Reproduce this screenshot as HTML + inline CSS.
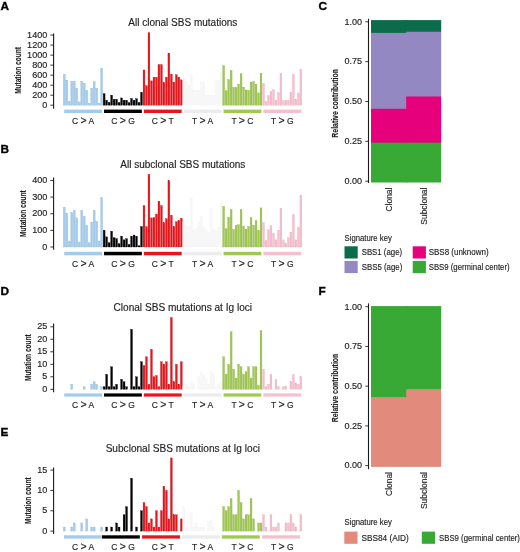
<!DOCTYPE html>
<html><head><meta charset="utf-8"><style>
html,body{margin:0;padding:0;background:#fff;}
svg{display:block;will-change:transform;}
text{font-family:"Liberation Sans",sans-serif;stroke:#222;stroke-width:0.14px;}
.pl{stroke:#000;stroke-width:0.35px;}
</style></head><body>
<svg width="520" height="552" viewBox="0 0 520 552" font-family="Liberation Sans, sans-serif">
<rect width="520" height="552" fill="#fff"/>
<text x="0.6" y="10.0" font-size="11.8" font-weight="bold" class="pl">A</text>
<text x="182.8" y="25.9" font-size="10" text-anchor="middle" fill="#222">All clonal SBS mutations</text>
<line x1="53.6" y1="33.5" x2="53.6" y2="108.8" stroke="#1a1a1a" stroke-width="1.1"/>
<line x1="50.4" y1="105.20" x2="53.6" y2="105.20" stroke="#222" stroke-width="0.9"/>
<text x="47.300000000000004" y="107.80" font-size="8.4" text-anchor="end" textLength="5.04" lengthAdjust="spacingAndGlyphs" fill="#222">0</text>
<line x1="50.4" y1="95.19" x2="53.6" y2="95.19" stroke="#222" stroke-width="0.9"/>
<text x="47.300000000000004" y="97.79" font-size="8.4" text-anchor="end" textLength="15.13" lengthAdjust="spacingAndGlyphs" fill="#222">200</text>
<line x1="50.4" y1="85.17" x2="53.6" y2="85.17" stroke="#222" stroke-width="0.9"/>
<text x="47.300000000000004" y="87.77" font-size="8.4" text-anchor="end" textLength="15.13" lengthAdjust="spacingAndGlyphs" fill="#222">400</text>
<line x1="50.4" y1="75.16" x2="53.6" y2="75.16" stroke="#222" stroke-width="0.9"/>
<text x="47.300000000000004" y="77.76" font-size="8.4" text-anchor="end" textLength="15.13" lengthAdjust="spacingAndGlyphs" fill="#222">600</text>
<line x1="50.4" y1="65.14" x2="53.6" y2="65.14" stroke="#222" stroke-width="0.9"/>
<text x="47.300000000000004" y="67.74" font-size="8.4" text-anchor="end" textLength="15.13" lengthAdjust="spacingAndGlyphs" fill="#222">800</text>
<line x1="50.4" y1="55.13" x2="53.6" y2="55.13" stroke="#222" stroke-width="0.9"/>
<text x="47.300000000000004" y="57.73" font-size="8.4" text-anchor="end" textLength="20.18" lengthAdjust="spacingAndGlyphs" fill="#222">1000</text>
<line x1="50.4" y1="45.11" x2="53.6" y2="45.11" stroke="#222" stroke-width="0.9"/>
<text x="47.300000000000004" y="47.71" font-size="8.4" text-anchor="end" textLength="20.18" lengthAdjust="spacingAndGlyphs" fill="#222">1200</text>
<line x1="50.4" y1="35.10" x2="53.6" y2="35.10" stroke="#222" stroke-width="0.9"/>
<text x="47.300000000000004" y="37.70" font-size="8.4" text-anchor="end" textLength="20.18" lengthAdjust="spacingAndGlyphs" fill="#222">1400</text>
<text transform="translate(20.7,70.5) rotate(-90)" font-size="8.6" font-weight="bold" text-anchor="middle" textLength="46.7" lengthAdjust="spacingAndGlyphs" fill="#222">Mutation count</text>
<rect x="63.38" y="74.16" width="1.85" height="31.04" fill="#A3CBEB" stroke="#8DB3D6" stroke-width="0.3"/>
<rect x="65.86" y="80.16" width="1.85" height="25.04" fill="#A3CBEB" stroke="#8DB3D6" stroke-width="0.3"/>
<rect x="68.36" y="101.19" width="1.85" height="4.01" fill="#A3CBEB" stroke="#8DB3D6" stroke-width="0.3"/>
<rect x="70.84" y="81.27" width="1.85" height="23.93" fill="#A3CBEB" stroke="#8DB3D6" stroke-width="0.3"/>
<rect x="73.33" y="81.17" width="1.85" height="24.03" fill="#A3CBEB" stroke="#8DB3D6" stroke-width="0.3"/>
<rect x="75.83" y="88.18" width="1.85" height="17.02" fill="#A3CBEB" stroke="#8DB3D6" stroke-width="0.3"/>
<rect x="78.31" y="101.95" width="1.85" height="3.25" fill="#A3CBEB" stroke="#8DB3D6" stroke-width="0.3"/>
<rect x="80.80" y="81.17" width="1.85" height="24.03" fill="#A3CBEB" stroke="#8DB3D6" stroke-width="0.3"/>
<rect x="83.30" y="83.17" width="1.85" height="22.03" fill="#A3CBEB" stroke="#8DB3D6" stroke-width="0.3"/>
<rect x="85.79" y="90.18" width="1.85" height="15.02" fill="#A3CBEB" stroke="#8DB3D6" stroke-width="0.3"/>
<rect x="88.28" y="103.20" width="1.85" height="2.00" fill="#A3CBEB" stroke="#8DB3D6" stroke-width="0.3"/>
<rect x="90.77" y="88.18" width="1.85" height="17.02" fill="#A3CBEB" stroke="#8DB3D6" stroke-width="0.3"/>
<rect x="93.26" y="81.67" width="1.85" height="23.53" fill="#A3CBEB" stroke="#8DB3D6" stroke-width="0.3"/>
<rect x="95.75" y="88.18" width="1.85" height="17.02" fill="#A3CBEB" stroke="#8DB3D6" stroke-width="0.3"/>
<rect x="98.23" y="103.20" width="1.85" height="2.00" fill="#A3CBEB" stroke="#8DB3D6" stroke-width="0.3"/>
<rect x="100.73" y="68.15" width="1.85" height="37.05" fill="#A3CBEB" stroke="#8DB3D6" stroke-width="0.3"/>
<rect x="64.20" y="109.6" width="37.80" height="3.40" fill="#A3CBEB"/>
<text x="83.10" y="123.7" font-size="8.5" text-anchor="middle" fill="#222">C <tspan font-size="10.5" dy="0.6">&gt;</tspan><tspan dy="-0.6"> A</tspan></text>
<rect x="103.22" y="93.68" width="1.85" height="11.52" fill="#000000" stroke="#000000" stroke-width="0.3"/>
<rect x="105.70" y="100.19" width="1.85" height="5.01" fill="#000000" stroke="#000000" stroke-width="0.3"/>
<rect x="108.20" y="102.30" width="1.85" height="2.90" fill="#000000" stroke="#000000" stroke-width="0.3"/>
<rect x="110.69" y="95.19" width="1.85" height="10.01" fill="#000000" stroke="#000000" stroke-width="0.3"/>
<rect x="113.17" y="99.29" width="1.85" height="5.91" fill="#000000" stroke="#000000" stroke-width="0.3"/>
<rect x="115.67" y="99.29" width="1.85" height="5.91" fill="#000000" stroke="#000000" stroke-width="0.3"/>
<rect x="118.16" y="102.45" width="1.85" height="2.75" fill="#000000" stroke="#000000" stroke-width="0.3"/>
<rect x="120.64" y="97.94" width="1.85" height="7.26" fill="#000000" stroke="#000000" stroke-width="0.3"/>
<rect x="123.14" y="100.19" width="1.85" height="5.01" fill="#000000" stroke="#000000" stroke-width="0.3"/>
<rect x="125.63" y="100.19" width="1.85" height="5.01" fill="#000000" stroke="#000000" stroke-width="0.3"/>
<rect x="128.12" y="102.60" width="1.85" height="2.60" fill="#000000" stroke="#000000" stroke-width="0.3"/>
<rect x="130.60" y="98.44" width="1.85" height="6.76" fill="#000000" stroke="#000000" stroke-width="0.3"/>
<rect x="133.09" y="100.19" width="1.85" height="5.01" fill="#000000" stroke="#000000" stroke-width="0.3"/>
<rect x="135.58" y="98.69" width="1.85" height="6.51" fill="#000000" stroke="#000000" stroke-width="0.3"/>
<rect x="138.07" y="102.45" width="1.85" height="2.75" fill="#000000" stroke="#000000" stroke-width="0.3"/>
<rect x="140.56" y="92.28" width="1.85" height="12.92" fill="#000000" stroke="#000000" stroke-width="0.3"/>
<rect x="104.04" y="109.6" width="37.80" height="3.40" fill="#000000"/>
<text x="122.94" y="123.7" font-size="8.5" text-anchor="middle" fill="#222">C <tspan font-size="10.5" dy="0.6">&gt;</tspan><tspan dy="-0.6"> G</tspan></text>
<rect x="143.06" y="69.95" width="1.85" height="35.25" fill="#E8161B" stroke="#C8101A" stroke-width="0.3"/>
<rect x="145.54" y="85.67" width="1.85" height="19.53" fill="#E8161B" stroke="#C8101A" stroke-width="0.3"/>
<rect x="148.03" y="32.75" width="1.85" height="72.45" fill="#E8161B" stroke="#C8101A" stroke-width="0.3"/>
<rect x="150.52" y="80.87" width="1.85" height="24.33" fill="#E8161B" stroke="#C8101A" stroke-width="0.3"/>
<rect x="153.01" y="77.16" width="1.85" height="28.04" fill="#E8161B" stroke="#C8101A" stroke-width="0.3"/>
<rect x="155.50" y="77.16" width="1.85" height="28.04" fill="#E8161B" stroke="#C8101A" stroke-width="0.3"/>
<rect x="158.00" y="64.64" width="1.85" height="40.56" fill="#E8161B" stroke="#C8101A" stroke-width="0.3"/>
<rect x="160.49" y="64.64" width="1.85" height="40.56" fill="#E8161B" stroke="#C8101A" stroke-width="0.3"/>
<rect x="162.97" y="82.67" width="1.85" height="22.53" fill="#E8161B" stroke="#C8101A" stroke-width="0.3"/>
<rect x="165.46" y="77.16" width="1.85" height="28.04" fill="#E8161B" stroke="#C8101A" stroke-width="0.3"/>
<rect x="167.95" y="53.13" width="1.85" height="52.07" fill="#E8161B" stroke="#C8101A" stroke-width="0.3"/>
<rect x="170.44" y="74.16" width="1.85" height="31.04" fill="#E8161B" stroke="#C8101A" stroke-width="0.3"/>
<rect x="172.94" y="82.17" width="1.85" height="23.03" fill="#E8161B" stroke="#C8101A" stroke-width="0.3"/>
<rect x="175.43" y="74.66" width="1.85" height="30.54" fill="#E8161B" stroke="#C8101A" stroke-width="0.3"/>
<rect x="177.91" y="77.16" width="1.85" height="28.04" fill="#E8161B" stroke="#C8101A" stroke-width="0.3"/>
<rect x="180.41" y="79.86" width="1.85" height="25.34" fill="#E8161B" stroke="#C8101A" stroke-width="0.3"/>
<rect x="143.88" y="109.6" width="37.80" height="3.40" fill="#E8161B"/>
<text x="162.78" y="123.7" font-size="8.5" text-anchor="middle" fill="#222">C <tspan font-size="10.5" dy="0.6">&gt;</tspan><tspan dy="-0.6"> T</tspan></text>
<rect x="182.89" y="78.16" width="1.85" height="27.04" fill="#F7F7F8" stroke="#F1F1F3" stroke-width="0.3"/>
<rect x="185.38" y="81.17" width="1.85" height="24.03" fill="#F7F7F8" stroke="#F1F1F3" stroke-width="0.3"/>
<rect x="187.88" y="85.17" width="1.85" height="20.03" fill="#F7F7F8" stroke="#F1F1F3" stroke-width="0.3"/>
<rect x="190.37" y="74.16" width="1.85" height="31.04" fill="#F7F7F8" stroke="#F1F1F3" stroke-width="0.3"/>
<rect x="192.86" y="90.18" width="1.85" height="15.02" fill="#F7F7F8" stroke="#F1F1F3" stroke-width="0.3"/>
<rect x="195.34" y="90.18" width="1.85" height="15.02" fill="#F7F7F8" stroke="#F1F1F3" stroke-width="0.3"/>
<rect x="197.83" y="90.18" width="1.85" height="15.02" fill="#F7F7F8" stroke="#F1F1F3" stroke-width="0.3"/>
<rect x="200.32" y="82.17" width="1.85" height="23.03" fill="#F7F7F8" stroke="#F1F1F3" stroke-width="0.3"/>
<rect x="202.81" y="82.17" width="1.85" height="23.03" fill="#F7F7F8" stroke="#F1F1F3" stroke-width="0.3"/>
<rect x="205.31" y="95.19" width="1.85" height="10.01" fill="#F7F7F8" stroke="#F1F1F3" stroke-width="0.3"/>
<rect x="207.80" y="95.19" width="1.85" height="10.01" fill="#F7F7F8" stroke="#F1F1F3" stroke-width="0.3"/>
<rect x="210.29" y="95.19" width="1.85" height="10.01" fill="#F7F7F8" stroke="#F1F1F3" stroke-width="0.3"/>
<rect x="212.77" y="95.19" width="1.85" height="10.01" fill="#F7F7F8" stroke="#F1F1F3" stroke-width="0.3"/>
<rect x="215.26" y="80.16" width="1.85" height="25.04" fill="#F7F7F8" stroke="#F1F1F3" stroke-width="0.3"/>
<rect x="217.75" y="80.16" width="1.85" height="25.04" fill="#F7F7F8" stroke="#F1F1F3" stroke-width="0.3"/>
<rect x="220.25" y="72.15" width="1.85" height="33.05" fill="#F7F7F8" stroke="#F1F1F3" stroke-width="0.3"/>
<rect x="183.72" y="109.6" width="37.80" height="3.40" fill="#ECECEF"/>
<text x="202.62" y="123.7" font-size="8.5" text-anchor="middle" fill="#222">T <tspan font-size="10.5" dy="0.6">&gt;</tspan><tspan dy="-0.6"> A</tspan></text>
<rect x="222.74" y="65.64" width="1.85" height="39.56" fill="#A0C853" stroke="#88AD40" stroke-width="0.3"/>
<rect x="225.23" y="90.68" width="1.85" height="14.52" fill="#A0C853" stroke="#88AD40" stroke-width="0.3"/>
<rect x="227.71" y="79.56" width="1.85" height="25.64" fill="#A0C853" stroke="#88AD40" stroke-width="0.3"/>
<rect x="230.20" y="70.40" width="1.85" height="34.80" fill="#A0C853" stroke="#88AD40" stroke-width="0.3"/>
<rect x="232.69" y="87.37" width="1.85" height="17.83" fill="#A0C853" stroke="#88AD40" stroke-width="0.3"/>
<rect x="235.19" y="87.37" width="1.85" height="17.83" fill="#A0C853" stroke="#88AD40" stroke-width="0.3"/>
<rect x="237.68" y="84.17" width="1.85" height="21.03" fill="#A0C853" stroke="#88AD40" stroke-width="0.3"/>
<rect x="240.17" y="73.76" width="1.85" height="31.44" fill="#A0C853" stroke="#88AD40" stroke-width="0.3"/>
<rect x="242.66" y="87.17" width="1.85" height="18.03" fill="#A0C853" stroke="#88AD40" stroke-width="0.3"/>
<rect x="245.14" y="89.98" width="1.85" height="15.22" fill="#A0C853" stroke="#88AD40" stroke-width="0.3"/>
<rect x="247.63" y="90.18" width="1.85" height="15.02" fill="#A0C853" stroke="#88AD40" stroke-width="0.3"/>
<rect x="250.12" y="82.02" width="1.85" height="23.18" fill="#A0C853" stroke="#88AD40" stroke-width="0.3"/>
<rect x="252.62" y="81.67" width="1.85" height="23.53" fill="#A0C853" stroke="#88AD40" stroke-width="0.3"/>
<rect x="255.11" y="84.17" width="1.85" height="21.03" fill="#A0C853" stroke="#88AD40" stroke-width="0.3"/>
<rect x="257.60" y="92.88" width="1.85" height="12.32" fill="#A0C853" stroke="#88AD40" stroke-width="0.3"/>
<rect x="260.08" y="73.30" width="1.85" height="31.90" fill="#A0C853" stroke="#88AD40" stroke-width="0.3"/>
<rect x="223.56" y="109.6" width="37.80" height="3.40" fill="#A0C853"/>
<text x="242.46" y="123.7" font-size="8.5" text-anchor="middle" fill="#222">T <tspan font-size="10.5" dy="0.6">&gt;</tspan><tspan dy="-0.6"> C</tspan></text>
<rect x="262.57" y="83.47" width="1.85" height="21.73" fill="#F4BFCE" stroke="#E4A8BA" stroke-width="0.3"/>
<rect x="265.06" y="101.59" width="1.85" height="3.61" fill="#F4BFCE" stroke="#E4A8BA" stroke-width="0.3"/>
<rect x="267.56" y="95.79" width="1.85" height="9.41" fill="#F4BFCE" stroke="#E4A8BA" stroke-width="0.3"/>
<rect x="270.05" y="91.43" width="1.85" height="13.77" fill="#F4BFCE" stroke="#E4A8BA" stroke-width="0.3"/>
<rect x="272.54" y="89.68" width="1.85" height="15.52" fill="#F4BFCE" stroke="#E4A8BA" stroke-width="0.3"/>
<rect x="275.02" y="100.19" width="1.85" height="5.01" fill="#F4BFCE" stroke="#E4A8BA" stroke-width="0.3"/>
<rect x="277.51" y="92.58" width="1.85" height="12.62" fill="#F4BFCE" stroke="#E4A8BA" stroke-width="0.3"/>
<rect x="280.00" y="73.30" width="1.85" height="31.90" fill="#F4BFCE" stroke="#E4A8BA" stroke-width="0.3"/>
<rect x="282.50" y="100.84" width="1.85" height="4.36" fill="#F4BFCE" stroke="#E4A8BA" stroke-width="0.3"/>
<rect x="284.99" y="100.84" width="1.85" height="4.36" fill="#F4BFCE" stroke="#E4A8BA" stroke-width="0.3"/>
<rect x="287.48" y="100.19" width="1.85" height="5.01" fill="#F4BFCE" stroke="#E4A8BA" stroke-width="0.3"/>
<rect x="289.97" y="92.18" width="1.85" height="13.02" fill="#F4BFCE" stroke="#E4A8BA" stroke-width="0.3"/>
<rect x="292.45" y="74.36" width="1.85" height="30.84" fill="#F4BFCE" stroke="#E4A8BA" stroke-width="0.3"/>
<rect x="294.94" y="99.39" width="1.85" height="5.81" fill="#F4BFCE" stroke="#E4A8BA" stroke-width="0.3"/>
<rect x="297.44" y="92.88" width="1.85" height="12.32" fill="#F4BFCE" stroke="#E4A8BA" stroke-width="0.3"/>
<rect x="299.93" y="69.70" width="1.85" height="35.50" fill="#F4BFCE" stroke="#E4A8BA" stroke-width="0.3"/>
<rect x="263.40" y="109.6" width="37.80" height="3.40" fill="#F4BFCE"/>
<text x="282.30" y="123.7" font-size="8.5" text-anchor="middle" fill="#222">T <tspan font-size="10.5" dy="0.6">&gt;</tspan><tspan dy="-0.6"> G</tspan></text>
<text x="0.6" y="153.0" font-size="11.8" font-weight="bold" class="pl">B</text>
<text x="182.8" y="168.3" font-size="10" text-anchor="middle" fill="#222">All subclonal SBS mutations</text>
<line x1="53.6" y1="177.6" x2="53.6" y2="249.7" stroke="#1a1a1a" stroke-width="1.1"/>
<line x1="50.4" y1="247.00" x2="53.6" y2="247.00" stroke="#222" stroke-width="0.9"/>
<text x="47.300000000000004" y="249.60" font-size="8.4" text-anchor="end" textLength="5.04" lengthAdjust="spacingAndGlyphs" fill="#222">0</text>
<line x1="50.4" y1="230.38" x2="53.6" y2="230.38" stroke="#222" stroke-width="0.9"/>
<text x="47.300000000000004" y="232.97" font-size="8.4" text-anchor="end" textLength="15.13" lengthAdjust="spacingAndGlyphs" fill="#222">100</text>
<line x1="50.4" y1="213.75" x2="53.6" y2="213.75" stroke="#222" stroke-width="0.9"/>
<text x="47.300000000000004" y="216.35" font-size="8.4" text-anchor="end" textLength="15.13" lengthAdjust="spacingAndGlyphs" fill="#222">200</text>
<line x1="50.4" y1="197.12" x2="53.6" y2="197.12" stroke="#222" stroke-width="0.9"/>
<text x="47.300000000000004" y="199.72" font-size="8.4" text-anchor="end" textLength="15.13" lengthAdjust="spacingAndGlyphs" fill="#222">300</text>
<line x1="50.4" y1="180.50" x2="53.6" y2="180.50" stroke="#222" stroke-width="0.9"/>
<text x="47.300000000000004" y="183.10" font-size="8.4" text-anchor="end" textLength="15.13" lengthAdjust="spacingAndGlyphs" fill="#222">400</text>
<text transform="translate(26.2,213.6) rotate(-90)" font-size="8.6" font-weight="bold" text-anchor="middle" textLength="46.7" lengthAdjust="spacingAndGlyphs" fill="#222">Mutation count</text>
<rect x="63.38" y="207.10" width="1.85" height="39.90" fill="#A3CBEB" stroke="#8DB3D6" stroke-width="0.3"/>
<rect x="65.86" y="213.42" width="1.85" height="33.58" fill="#A3CBEB" stroke="#8DB3D6" stroke-width="0.3"/>
<rect x="68.36" y="241.01" width="1.85" height="5.99" fill="#A3CBEB" stroke="#8DB3D6" stroke-width="0.3"/>
<rect x="70.84" y="212.42" width="1.85" height="34.58" fill="#A3CBEB" stroke="#8DB3D6" stroke-width="0.3"/>
<rect x="73.33" y="210.43" width="1.85" height="36.58" fill="#A3CBEB" stroke="#8DB3D6" stroke-width="0.3"/>
<rect x="75.83" y="217.91" width="1.85" height="29.09" fill="#A3CBEB" stroke="#8DB3D6" stroke-width="0.3"/>
<rect x="78.31" y="242.01" width="1.85" height="4.99" fill="#A3CBEB" stroke="#8DB3D6" stroke-width="0.3"/>
<rect x="80.80" y="210.43" width="1.85" height="36.58" fill="#A3CBEB" stroke="#8DB3D6" stroke-width="0.3"/>
<rect x="83.30" y="216.41" width="1.85" height="30.59" fill="#A3CBEB" stroke="#8DB3D6" stroke-width="0.3"/>
<rect x="85.79" y="225.39" width="1.85" height="21.61" fill="#A3CBEB" stroke="#8DB3D6" stroke-width="0.3"/>
<rect x="88.28" y="242.84" width="1.85" height="4.16" fill="#A3CBEB" stroke="#8DB3D6" stroke-width="0.3"/>
<rect x="90.77" y="222.06" width="1.85" height="24.94" fill="#A3CBEB" stroke="#8DB3D6" stroke-width="0.3"/>
<rect x="93.26" y="210.43" width="1.85" height="36.58" fill="#A3CBEB" stroke="#8DB3D6" stroke-width="0.3"/>
<rect x="95.75" y="221.23" width="1.85" height="25.77" fill="#A3CBEB" stroke="#8DB3D6" stroke-width="0.3"/>
<rect x="98.23" y="241.01" width="1.85" height="5.99" fill="#A3CBEB" stroke="#8DB3D6" stroke-width="0.3"/>
<rect x="100.73" y="197.46" width="1.85" height="49.54" fill="#A3CBEB" stroke="#8DB3D6" stroke-width="0.3"/>
<rect x="64.20" y="251.8" width="37.80" height="3.50" fill="#A3CBEB"/>
<text x="83.10" y="266.6" font-size="8.5" text-anchor="middle" fill="#222">C <tspan font-size="10.5" dy="0.6">&gt;</tspan><tspan dy="-0.6"> A</tspan></text>
<rect x="103.22" y="230.21" width="1.85" height="16.79" fill="#000000" stroke="#000000" stroke-width="0.3"/>
<rect x="105.70" y="236.86" width="1.85" height="10.14" fill="#000000" stroke="#000000" stroke-width="0.3"/>
<rect x="108.20" y="242.84" width="1.85" height="4.16" fill="#000000" stroke="#000000" stroke-width="0.3"/>
<rect x="110.69" y="231.21" width="1.85" height="15.79" fill="#000000" stroke="#000000" stroke-width="0.3"/>
<rect x="113.17" y="237.69" width="1.85" height="9.31" fill="#000000" stroke="#000000" stroke-width="0.3"/>
<rect x="115.67" y="238.69" width="1.85" height="8.31" fill="#000000" stroke="#000000" stroke-width="0.3"/>
<rect x="118.16" y="243.68" width="1.85" height="3.33" fill="#000000" stroke="#000000" stroke-width="0.3"/>
<rect x="120.64" y="236.19" width="1.85" height="10.81" fill="#000000" stroke="#000000" stroke-width="0.3"/>
<rect x="123.14" y="239.85" width="1.85" height="7.15" fill="#000000" stroke="#000000" stroke-width="0.3"/>
<rect x="125.63" y="238.69" width="1.85" height="8.31" fill="#000000" stroke="#000000" stroke-width="0.3"/>
<rect x="128.12" y="244.34" width="1.85" height="2.66" fill="#000000" stroke="#000000" stroke-width="0.3"/>
<rect x="130.60" y="236.19" width="1.85" height="10.81" fill="#000000" stroke="#000000" stroke-width="0.3"/>
<rect x="133.09" y="235.03" width="1.85" height="11.97" fill="#000000" stroke="#000000" stroke-width="0.3"/>
<rect x="135.58" y="236.19" width="1.85" height="10.81" fill="#000000" stroke="#000000" stroke-width="0.3"/>
<rect x="138.07" y="245.84" width="1.85" height="1.16" fill="#000000" stroke="#000000" stroke-width="0.3"/>
<rect x="140.56" y="226.55" width="1.85" height="20.45" fill="#000000" stroke="#000000" stroke-width="0.3"/>
<rect x="104.04" y="251.8" width="37.80" height="3.50" fill="#000000"/>
<text x="122.94" y="266.6" font-size="8.5" text-anchor="middle" fill="#222">C <tspan font-size="10.5" dy="0.6">&gt;</tspan><tspan dy="-0.6"> G</tspan></text>
<rect x="143.06" y="205.60" width="1.85" height="41.40" fill="#E8161B" stroke="#C8101A" stroke-width="0.3"/>
<rect x="145.54" y="226.72" width="1.85" height="20.28" fill="#E8161B" stroke="#C8101A" stroke-width="0.3"/>
<rect x="148.03" y="174.35" width="1.85" height="72.65" fill="#E8161B" stroke="#C8101A" stroke-width="0.3"/>
<rect x="150.52" y="217.91" width="1.85" height="29.09" fill="#E8161B" stroke="#C8101A" stroke-width="0.3"/>
<rect x="153.01" y="217.57" width="1.85" height="29.43" fill="#E8161B" stroke="#C8101A" stroke-width="0.3"/>
<rect x="155.50" y="214.08" width="1.85" height="32.92" fill="#E8161B" stroke="#C8101A" stroke-width="0.3"/>
<rect x="158.00" y="201.12" width="1.85" height="45.89" fill="#E8161B" stroke="#C8101A" stroke-width="0.3"/>
<rect x="160.49" y="205.60" width="1.85" height="41.40" fill="#E8161B" stroke="#C8101A" stroke-width="0.3"/>
<rect x="162.97" y="222.73" width="1.85" height="24.27" fill="#E8161B" stroke="#C8101A" stroke-width="0.3"/>
<rect x="165.46" y="218.74" width="1.85" height="28.26" fill="#E8161B" stroke="#C8101A" stroke-width="0.3"/>
<rect x="167.95" y="180.67" width="1.85" height="66.33" fill="#E8161B" stroke="#C8101A" stroke-width="0.3"/>
<rect x="170.44" y="215.25" width="1.85" height="31.75" fill="#E8161B" stroke="#C8101A" stroke-width="0.3"/>
<rect x="172.94" y="226.72" width="1.85" height="20.28" fill="#E8161B" stroke="#C8101A" stroke-width="0.3"/>
<rect x="175.43" y="221.73" width="1.85" height="25.27" fill="#E8161B" stroke="#C8101A" stroke-width="0.3"/>
<rect x="177.91" y="220.57" width="1.85" height="26.43" fill="#E8161B" stroke="#C8101A" stroke-width="0.3"/>
<rect x="180.41" y="218.24" width="1.85" height="28.76" fill="#E8161B" stroke="#C8101A" stroke-width="0.3"/>
<rect x="143.88" y="251.8" width="37.80" height="3.50" fill="#E8161B"/>
<text x="162.78" y="266.6" font-size="8.5" text-anchor="middle" fill="#222">C <tspan font-size="10.5" dy="0.6">&gt;</tspan><tspan dy="-0.6"> T</tspan></text>
<rect x="182.89" y="222.06" width="1.85" height="24.94" fill="#F7F7F8" stroke="#F1F1F3" stroke-width="0.3"/>
<rect x="185.38" y="225.39" width="1.85" height="21.61" fill="#F7F7F8" stroke="#F1F1F3" stroke-width="0.3"/>
<rect x="187.88" y="227.05" width="1.85" height="19.95" fill="#F7F7F8" stroke="#F1F1F3" stroke-width="0.3"/>
<rect x="190.37" y="197.46" width="1.85" height="49.54" fill="#F7F7F8" stroke="#F1F1F3" stroke-width="0.3"/>
<rect x="192.86" y="230.38" width="1.85" height="16.62" fill="#F7F7F8" stroke="#F1F1F3" stroke-width="0.3"/>
<rect x="195.34" y="228.71" width="1.85" height="18.29" fill="#F7F7F8" stroke="#F1F1F3" stroke-width="0.3"/>
<rect x="197.83" y="222.06" width="1.85" height="24.94" fill="#F7F7F8" stroke="#F1F1F3" stroke-width="0.3"/>
<rect x="200.32" y="216.08" width="1.85" height="30.92" fill="#F7F7F8" stroke="#F1F1F3" stroke-width="0.3"/>
<rect x="202.81" y="227.05" width="1.85" height="19.95" fill="#F7F7F8" stroke="#F1F1F3" stroke-width="0.3"/>
<rect x="205.31" y="230.38" width="1.85" height="16.62" fill="#F7F7F8" stroke="#F1F1F3" stroke-width="0.3"/>
<rect x="207.80" y="232.04" width="1.85" height="14.96" fill="#F7F7F8" stroke="#F1F1F3" stroke-width="0.3"/>
<rect x="210.29" y="207.93" width="1.85" height="39.07" fill="#F7F7F8" stroke="#F1F1F3" stroke-width="0.3"/>
<rect x="212.77" y="228.71" width="1.85" height="18.29" fill="#F7F7F8" stroke="#F1F1F3" stroke-width="0.3"/>
<rect x="215.26" y="230.38" width="1.85" height="16.62" fill="#F7F7F8" stroke="#F1F1F3" stroke-width="0.3"/>
<rect x="217.75" y="227.05" width="1.85" height="19.95" fill="#F7F7F8" stroke="#F1F1F3" stroke-width="0.3"/>
<rect x="220.25" y="201.12" width="1.85" height="45.89" fill="#F7F7F8" stroke="#F1F1F3" stroke-width="0.3"/>
<rect x="183.72" y="251.8" width="37.80" height="3.50" fill="#ECECEF"/>
<text x="202.62" y="266.6" font-size="8.5" text-anchor="middle" fill="#222">T <tspan font-size="10.5" dy="0.6">&gt;</tspan><tspan dy="-0.6"> A</tspan></text>
<rect x="222.74" y="206.44" width="1.85" height="40.57" fill="#A0C853" stroke="#88AD40" stroke-width="0.3"/>
<rect x="225.23" y="228.71" width="1.85" height="18.29" fill="#A0C853" stroke="#88AD40" stroke-width="0.3"/>
<rect x="227.71" y="217.24" width="1.85" height="29.76" fill="#A0C853" stroke="#88AD40" stroke-width="0.3"/>
<rect x="230.20" y="209.43" width="1.85" height="37.57" fill="#A0C853" stroke="#88AD40" stroke-width="0.3"/>
<rect x="232.69" y="229.54" width="1.85" height="17.46" fill="#A0C853" stroke="#88AD40" stroke-width="0.3"/>
<rect x="235.19" y="225.22" width="1.85" height="21.78" fill="#A0C853" stroke="#88AD40" stroke-width="0.3"/>
<rect x="237.68" y="224.72" width="1.85" height="22.28" fill="#A0C853" stroke="#88AD40" stroke-width="0.3"/>
<rect x="240.17" y="209.43" width="1.85" height="37.57" fill="#A0C853" stroke="#88AD40" stroke-width="0.3"/>
<rect x="242.66" y="226.22" width="1.85" height="20.78" fill="#A0C853" stroke="#88AD40" stroke-width="0.3"/>
<rect x="245.14" y="229.21" width="1.85" height="17.79" fill="#A0C853" stroke="#88AD40" stroke-width="0.3"/>
<rect x="247.63" y="226.55" width="1.85" height="20.45" fill="#A0C853" stroke="#88AD40" stroke-width="0.3"/>
<rect x="250.12" y="217.57" width="1.85" height="29.43" fill="#A0C853" stroke="#88AD40" stroke-width="0.3"/>
<rect x="252.62" y="225.22" width="1.85" height="21.78" fill="#A0C853" stroke="#88AD40" stroke-width="0.3"/>
<rect x="255.11" y="220.57" width="1.85" height="26.43" fill="#A0C853" stroke="#88AD40" stroke-width="0.3"/>
<rect x="257.60" y="230.21" width="1.85" height="16.79" fill="#A0C853" stroke="#88AD40" stroke-width="0.3"/>
<rect x="260.08" y="207.93" width="1.85" height="39.07" fill="#A0C853" stroke="#88AD40" stroke-width="0.3"/>
<rect x="223.56" y="251.8" width="37.80" height="3.50" fill="#A0C853"/>
<text x="242.46" y="266.6" font-size="8.5" text-anchor="middle" fill="#222">T <tspan font-size="10.5" dy="0.6">&gt;</tspan><tspan dy="-0.6"> C</tspan></text>
<rect x="262.57" y="222.73" width="1.85" height="24.27" fill="#F4BFCE" stroke="#E4A8BA" stroke-width="0.3"/>
<rect x="265.06" y="240.68" width="1.85" height="6.32" fill="#F4BFCE" stroke="#E4A8BA" stroke-width="0.3"/>
<rect x="267.56" y="229.54" width="1.85" height="17.46" fill="#F4BFCE" stroke="#E4A8BA" stroke-width="0.3"/>
<rect x="270.05" y="225.72" width="1.85" height="21.28" fill="#F4BFCE" stroke="#E4A8BA" stroke-width="0.3"/>
<rect x="272.54" y="233.20" width="1.85" height="13.80" fill="#F4BFCE" stroke="#E4A8BA" stroke-width="0.3"/>
<rect x="275.02" y="239.85" width="1.85" height="7.15" fill="#F4BFCE" stroke="#E4A8BA" stroke-width="0.3"/>
<rect x="277.51" y="230.21" width="1.85" height="16.79" fill="#F4BFCE" stroke="#E4A8BA" stroke-width="0.3"/>
<rect x="280.00" y="208.43" width="1.85" height="38.57" fill="#F4BFCE" stroke="#E4A8BA" stroke-width="0.3"/>
<rect x="282.50" y="239.85" width="1.85" height="7.15" fill="#F4BFCE" stroke="#E4A8BA" stroke-width="0.3"/>
<rect x="284.99" y="243.51" width="1.85" height="3.49" fill="#F4BFCE" stroke="#E4A8BA" stroke-width="0.3"/>
<rect x="287.48" y="237.69" width="1.85" height="9.31" fill="#F4BFCE" stroke="#E4A8BA" stroke-width="0.3"/>
<rect x="289.97" y="232.20" width="1.85" height="14.80" fill="#F4BFCE" stroke="#E4A8BA" stroke-width="0.3"/>
<rect x="292.45" y="214.58" width="1.85" height="32.42" fill="#F4BFCE" stroke="#E4A8BA" stroke-width="0.3"/>
<rect x="294.94" y="239.85" width="1.85" height="7.15" fill="#F4BFCE" stroke="#E4A8BA" stroke-width="0.3"/>
<rect x="297.44" y="227.22" width="1.85" height="19.78" fill="#F4BFCE" stroke="#E4A8BA" stroke-width="0.3"/>
<rect x="299.93" y="195.30" width="1.85" height="51.70" fill="#F4BFCE" stroke="#E4A8BA" stroke-width="0.3"/>
<rect x="263.40" y="251.8" width="37.80" height="3.50" fill="#F4BFCE"/>
<text x="282.30" y="266.6" font-size="8.5" text-anchor="middle" fill="#222">T <tspan font-size="10.5" dy="0.6">&gt;</tspan><tspan dy="-0.6"> G</tspan></text>
<text x="0.6" y="295.4" font-size="11.8" font-weight="bold" class="pl">D</text>
<text x="182.8" y="311.0" font-size="10.1" text-anchor="middle" fill="#222">Clonal SBS mutations at Ig loci</text>
<line x1="53.6" y1="323.6" x2="53.6" y2="392.3" stroke="#1a1a1a" stroke-width="1.1"/>
<line x1="50.4" y1="389.30" x2="53.6" y2="389.30" stroke="#222" stroke-width="0.9"/>
<text x="47.300000000000004" y="391.90" font-size="8.4" text-anchor="end" textLength="5.04" lengthAdjust="spacingAndGlyphs" fill="#222">0</text>
<line x1="50.4" y1="376.80" x2="53.6" y2="376.80" stroke="#222" stroke-width="0.9"/>
<text x="47.300000000000004" y="379.40" font-size="8.4" text-anchor="end" textLength="5.04" lengthAdjust="spacingAndGlyphs" fill="#222">5</text>
<line x1="50.4" y1="364.30" x2="53.6" y2="364.30" stroke="#222" stroke-width="0.9"/>
<text x="47.300000000000004" y="366.90" font-size="8.4" text-anchor="end" textLength="10.09" lengthAdjust="spacingAndGlyphs" fill="#222">10</text>
<line x1="50.4" y1="351.80" x2="53.6" y2="351.80" stroke="#222" stroke-width="0.9"/>
<text x="47.300000000000004" y="354.40" font-size="8.4" text-anchor="end" textLength="10.09" lengthAdjust="spacingAndGlyphs" fill="#222">15</text>
<line x1="50.4" y1="339.30" x2="53.6" y2="339.30" stroke="#222" stroke-width="0.9"/>
<text x="47.300000000000004" y="341.90" font-size="8.4" text-anchor="end" textLength="10.09" lengthAdjust="spacingAndGlyphs" fill="#222">20</text>
<line x1="50.4" y1="326.80" x2="53.6" y2="326.80" stroke="#222" stroke-width="0.9"/>
<text x="47.300000000000004" y="329.40" font-size="8.4" text-anchor="end" textLength="10.09" lengthAdjust="spacingAndGlyphs" fill="#222">25</text>
<text transform="translate(30.6,357.7) rotate(-90)" font-size="8.6" font-weight="bold" text-anchor="middle" textLength="46.7" lengthAdjust="spacingAndGlyphs" fill="#222">Mutation count</text>
<rect x="70.84" y="384.30" width="1.85" height="5.00" fill="#A3CBEB" stroke="#8DB3D6" stroke-width="0.3"/>
<rect x="83.30" y="386.80" width="1.85" height="2.50" fill="#A3CBEB" stroke="#8DB3D6" stroke-width="0.3"/>
<rect x="90.77" y="384.30" width="1.85" height="5.00" fill="#A3CBEB" stroke="#8DB3D6" stroke-width="0.3"/>
<rect x="93.26" y="381.80" width="1.85" height="7.50" fill="#A3CBEB" stroke="#8DB3D6" stroke-width="0.3"/>
<rect x="95.75" y="384.30" width="1.85" height="5.00" fill="#A3CBEB" stroke="#8DB3D6" stroke-width="0.3"/>
<rect x="100.73" y="386.80" width="1.85" height="2.50" fill="#A3CBEB" stroke="#8DB3D6" stroke-width="0.3"/>
<rect x="64.20" y="393.4" width="37.80" height="3.20" fill="#A3CBEB"/>
<text x="83.10" y="407.5" font-size="8.5" text-anchor="middle" fill="#222">C <tspan font-size="10.5" dy="0.6">&gt;</tspan><tspan dy="-0.6"> A</tspan></text>
<rect x="103.22" y="386.80" width="1.85" height="2.50" fill="#000000" stroke="#000000" stroke-width="0.3"/>
<rect x="105.70" y="374.30" width="1.85" height="15.00" fill="#000000" stroke="#000000" stroke-width="0.3"/>
<rect x="108.20" y="386.80" width="1.85" height="2.50" fill="#000000" stroke="#000000" stroke-width="0.3"/>
<rect x="110.69" y="366.80" width="1.85" height="22.50" fill="#000000" stroke="#000000" stroke-width="0.3"/>
<rect x="113.17" y="386.80" width="1.85" height="2.50" fill="#000000" stroke="#000000" stroke-width="0.3"/>
<rect x="115.67" y="384.30" width="1.85" height="5.00" fill="#000000" stroke="#000000" stroke-width="0.3"/>
<rect x="120.64" y="379.30" width="1.85" height="10.00" fill="#000000" stroke="#000000" stroke-width="0.3"/>
<rect x="123.14" y="381.80" width="1.85" height="7.50" fill="#000000" stroke="#000000" stroke-width="0.3"/>
<rect x="125.63" y="386.80" width="1.85" height="2.50" fill="#000000" stroke="#000000" stroke-width="0.3"/>
<rect x="130.60" y="329.30" width="1.85" height="60.00" fill="#000000" stroke="#000000" stroke-width="0.3"/>
<rect x="133.09" y="386.80" width="1.85" height="2.50" fill="#000000" stroke="#000000" stroke-width="0.3"/>
<rect x="135.58" y="376.80" width="1.85" height="12.50" fill="#000000" stroke="#000000" stroke-width="0.3"/>
<rect x="138.07" y="386.80" width="1.85" height="2.50" fill="#000000" stroke="#000000" stroke-width="0.3"/>
<rect x="140.56" y="361.80" width="1.85" height="27.50" fill="#000000" stroke="#000000" stroke-width="0.3"/>
<rect x="104.04" y="393.4" width="37.80" height="3.20" fill="#000000"/>
<text x="122.94" y="407.5" font-size="8.5" text-anchor="middle" fill="#222">C <tspan font-size="10.5" dy="0.6">&gt;</tspan><tspan dy="-0.6"> G</tspan></text>
<rect x="143.06" y="365.55" width="1.85" height="23.75" fill="#E8161B" stroke="#C8101A" stroke-width="0.3"/>
<rect x="145.54" y="356.80" width="1.85" height="32.50" fill="#E8161B" stroke="#C8101A" stroke-width="0.3"/>
<rect x="148.03" y="384.30" width="1.85" height="5.00" fill="#E8161B" stroke="#C8101A" stroke-width="0.3"/>
<rect x="150.52" y="349.30" width="1.85" height="40.00" fill="#E8161B" stroke="#C8101A" stroke-width="0.3"/>
<rect x="153.01" y="376.80" width="1.85" height="12.50" fill="#E8161B" stroke="#C8101A" stroke-width="0.3"/>
<rect x="155.50" y="375.55" width="1.85" height="13.75" fill="#E8161B" stroke="#C8101A" stroke-width="0.3"/>
<rect x="158.00" y="386.80" width="1.85" height="2.50" fill="#E8161B" stroke="#C8101A" stroke-width="0.3"/>
<rect x="160.49" y="361.80" width="1.85" height="27.50" fill="#E8161B" stroke="#C8101A" stroke-width="0.3"/>
<rect x="162.97" y="364.30" width="1.85" height="25.00" fill="#E8161B" stroke="#C8101A" stroke-width="0.3"/>
<rect x="165.46" y="361.80" width="1.85" height="27.50" fill="#E8161B" stroke="#C8101A" stroke-width="0.3"/>
<rect x="167.95" y="384.30" width="1.85" height="5.00" fill="#E8161B" stroke="#C8101A" stroke-width="0.3"/>
<rect x="170.44" y="317.55" width="1.85" height="71.75" fill="#E8161B" stroke="#C8101A" stroke-width="0.3"/>
<rect x="172.94" y="381.80" width="1.85" height="7.50" fill="#E8161B" stroke="#C8101A" stroke-width="0.3"/>
<rect x="175.43" y="364.30" width="1.85" height="25.00" fill="#E8161B" stroke="#C8101A" stroke-width="0.3"/>
<rect x="177.91" y="384.30" width="1.85" height="5.00" fill="#E8161B" stroke="#C8101A" stroke-width="0.3"/>
<rect x="180.41" y="361.80" width="1.85" height="27.50" fill="#E8161B" stroke="#C8101A" stroke-width="0.3"/>
<rect x="143.88" y="393.4" width="37.80" height="3.20" fill="#E8161B"/>
<text x="162.78" y="407.5" font-size="8.5" text-anchor="middle" fill="#222">C <tspan font-size="10.5" dy="0.6">&gt;</tspan><tspan dy="-0.6"> T</tspan></text>
<rect x="182.89" y="386.80" width="1.85" height="2.50" fill="#F7F7F8" stroke="#F1F1F3" stroke-width="0.3"/>
<rect x="185.38" y="384.30" width="1.85" height="5.00" fill="#F7F7F8" stroke="#F1F1F3" stroke-width="0.3"/>
<rect x="187.88" y="386.80" width="1.85" height="2.50" fill="#F7F7F8" stroke="#F1F1F3" stroke-width="0.3"/>
<rect x="190.37" y="381.80" width="1.85" height="7.50" fill="#F7F7F8" stroke="#F1F1F3" stroke-width="0.3"/>
<rect x="192.86" y="384.30" width="1.85" height="5.00" fill="#F7F7F8" stroke="#F1F1F3" stroke-width="0.3"/>
<rect x="197.83" y="376.80" width="1.85" height="12.50" fill="#F7F7F8" stroke="#F1F1F3" stroke-width="0.3"/>
<rect x="200.32" y="371.80" width="1.85" height="17.50" fill="#F7F7F8" stroke="#F1F1F3" stroke-width="0.3"/>
<rect x="202.81" y="374.30" width="1.85" height="15.00" fill="#F7F7F8" stroke="#F1F1F3" stroke-width="0.3"/>
<rect x="205.31" y="379.30" width="1.85" height="10.00" fill="#F7F7F8" stroke="#F1F1F3" stroke-width="0.3"/>
<rect x="207.80" y="384.30" width="1.85" height="5.00" fill="#F7F7F8" stroke="#F1F1F3" stroke-width="0.3"/>
<rect x="210.29" y="371.80" width="1.85" height="17.50" fill="#F7F7F8" stroke="#F1F1F3" stroke-width="0.3"/>
<rect x="212.77" y="374.30" width="1.85" height="15.00" fill="#F7F7F8" stroke="#F1F1F3" stroke-width="0.3"/>
<rect x="215.26" y="386.80" width="1.85" height="2.50" fill="#F7F7F8" stroke="#F1F1F3" stroke-width="0.3"/>
<rect x="217.75" y="384.30" width="1.85" height="5.00" fill="#F7F7F8" stroke="#F1F1F3" stroke-width="0.3"/>
<rect x="220.25" y="381.80" width="1.85" height="7.50" fill="#F7F7F8" stroke="#F1F1F3" stroke-width="0.3"/>
<rect x="183.72" y="393.4" width="37.80" height="3.20" fill="#ECECEF"/>
<text x="202.62" y="407.5" font-size="8.5" text-anchor="middle" fill="#222">T <tspan font-size="10.5" dy="0.6">&gt;</tspan><tspan dy="-0.6"> A</tspan></text>
<rect x="222.74" y="356.80" width="1.85" height="32.50" fill="#A0C853" stroke="#88AD40" stroke-width="0.3"/>
<rect x="225.23" y="374.30" width="1.85" height="15.00" fill="#A0C853" stroke="#88AD40" stroke-width="0.3"/>
<rect x="227.71" y="364.30" width="1.85" height="25.00" fill="#A0C853" stroke="#88AD40" stroke-width="0.3"/>
<rect x="230.20" y="331.80" width="1.85" height="57.50" fill="#A0C853" stroke="#88AD40" stroke-width="0.3"/>
<rect x="232.69" y="369.30" width="1.85" height="20.00" fill="#A0C853" stroke="#88AD40" stroke-width="0.3"/>
<rect x="235.19" y="378.05" width="1.85" height="11.25" fill="#A0C853" stroke="#88AD40" stroke-width="0.3"/>
<rect x="237.68" y="364.30" width="1.85" height="25.00" fill="#A0C853" stroke="#88AD40" stroke-width="0.3"/>
<rect x="240.17" y="366.80" width="1.85" height="22.50" fill="#A0C853" stroke="#88AD40" stroke-width="0.3"/>
<rect x="242.66" y="374.30" width="1.85" height="15.00" fill="#A0C853" stroke="#88AD40" stroke-width="0.3"/>
<rect x="245.14" y="371.80" width="1.85" height="17.50" fill="#A0C853" stroke="#88AD40" stroke-width="0.3"/>
<rect x="247.63" y="366.80" width="1.85" height="22.50" fill="#A0C853" stroke="#88AD40" stroke-width="0.3"/>
<rect x="250.12" y="378.05" width="1.85" height="11.25" fill="#A0C853" stroke="#88AD40" stroke-width="0.3"/>
<rect x="252.62" y="366.80" width="1.85" height="22.50" fill="#A0C853" stroke="#88AD40" stroke-width="0.3"/>
<rect x="255.11" y="366.80" width="1.85" height="22.50" fill="#A0C853" stroke="#88AD40" stroke-width="0.3"/>
<rect x="257.60" y="385.55" width="1.85" height="3.75" fill="#A0C853" stroke="#88AD40" stroke-width="0.3"/>
<rect x="260.08" y="330.55" width="1.85" height="58.75" fill="#A0C853" stroke="#88AD40" stroke-width="0.3"/>
<rect x="223.56" y="393.4" width="37.80" height="3.20" fill="#A0C853"/>
<text x="242.46" y="407.5" font-size="8.5" text-anchor="middle" fill="#222">T <tspan font-size="10.5" dy="0.6">&gt;</tspan><tspan dy="-0.6"> C</tspan></text>
<rect x="262.57" y="369.30" width="1.85" height="20.00" fill="#F4BFCE" stroke="#E4A8BA" stroke-width="0.3"/>
<rect x="265.06" y="386.80" width="1.85" height="2.50" fill="#F4BFCE" stroke="#E4A8BA" stroke-width="0.3"/>
<rect x="267.56" y="384.30" width="1.85" height="5.00" fill="#F4BFCE" stroke="#E4A8BA" stroke-width="0.3"/>
<rect x="270.05" y="374.30" width="1.85" height="15.00" fill="#F4BFCE" stroke="#E4A8BA" stroke-width="0.3"/>
<rect x="275.02" y="379.30" width="1.85" height="10.00" fill="#F4BFCE" stroke="#E4A8BA" stroke-width="0.3"/>
<rect x="277.51" y="386.80" width="1.85" height="2.50" fill="#F4BFCE" stroke="#E4A8BA" stroke-width="0.3"/>
<rect x="282.50" y="386.80" width="1.85" height="2.50" fill="#F4BFCE" stroke="#E4A8BA" stroke-width="0.3"/>
<rect x="284.99" y="386.80" width="1.85" height="2.50" fill="#F4BFCE" stroke="#E4A8BA" stroke-width="0.3"/>
<rect x="289.97" y="381.80" width="1.85" height="7.50" fill="#F4BFCE" stroke="#E4A8BA" stroke-width="0.3"/>
<rect x="292.45" y="374.30" width="1.85" height="15.00" fill="#F4BFCE" stroke="#E4A8BA" stroke-width="0.3"/>
<rect x="294.94" y="383.05" width="1.85" height="6.25" fill="#F4BFCE" stroke="#E4A8BA" stroke-width="0.3"/>
<rect x="297.44" y="384.30" width="1.85" height="5.00" fill="#F4BFCE" stroke="#E4A8BA" stroke-width="0.3"/>
<rect x="299.93" y="376.80" width="1.85" height="12.50" fill="#F4BFCE" stroke="#E4A8BA" stroke-width="0.3"/>
<rect x="263.40" y="393.4" width="37.80" height="3.20" fill="#F4BFCE"/>
<text x="282.30" y="407.5" font-size="8.5" text-anchor="middle" fill="#222">T <tspan font-size="10.5" dy="0.6">&gt;</tspan><tspan dy="-0.6"> G</tspan></text>
<text x="0.6" y="436.3" font-size="11.8" font-weight="bold" class="pl">E</text>
<text x="182.8" y="452.4" font-size="10.1" text-anchor="middle" fill="#222">Subclonal SBS mutations at Ig loci</text>
<line x1="53.6" y1="467.4" x2="53.6" y2="534.0" stroke="#1a1a1a" stroke-width="1.1"/>
<line x1="50.4" y1="531.10" x2="53.6" y2="531.10" stroke="#222" stroke-width="0.9"/>
<text x="47.300000000000004" y="533.70" font-size="8.4" text-anchor="end" textLength="5.04" lengthAdjust="spacingAndGlyphs" fill="#222">0</text>
<line x1="50.4" y1="510.77" x2="53.6" y2="510.77" stroke="#222" stroke-width="0.9"/>
<text x="47.300000000000004" y="513.37" font-size="8.4" text-anchor="end" textLength="5.04" lengthAdjust="spacingAndGlyphs" fill="#222">5</text>
<line x1="50.4" y1="490.43" x2="53.6" y2="490.43" stroke="#222" stroke-width="0.9"/>
<text x="47.300000000000004" y="493.03" font-size="8.4" text-anchor="end" textLength="10.09" lengthAdjust="spacingAndGlyphs" fill="#222">10</text>
<line x1="50.4" y1="470.10" x2="53.6" y2="470.10" stroke="#222" stroke-width="0.9"/>
<text x="47.300000000000004" y="472.70" font-size="8.4" text-anchor="end" textLength="10.09" lengthAdjust="spacingAndGlyphs" fill="#222">15</text>
<text transform="translate(31.4,500.6) rotate(-90)" font-size="8.6" font-weight="bold" text-anchor="middle" textLength="46.7" lengthAdjust="spacingAndGlyphs" fill="#222">Mutation count</text>
<rect x="63.38" y="527.03" width="1.85" height="4.07" fill="#A3CBEB" stroke="#8DB3D6" stroke-width="0.3"/>
<rect x="70.84" y="527.03" width="1.85" height="4.07" fill="#A3CBEB" stroke="#8DB3D6" stroke-width="0.3"/>
<rect x="73.33" y="522.97" width="1.85" height="8.13" fill="#A3CBEB" stroke="#8DB3D6" stroke-width="0.3"/>
<rect x="80.80" y="522.97" width="1.85" height="8.13" fill="#A3CBEB" stroke="#8DB3D6" stroke-width="0.3"/>
<rect x="85.79" y="518.90" width="1.85" height="12.20" fill="#A3CBEB" stroke="#8DB3D6" stroke-width="0.3"/>
<rect x="90.77" y="527.03" width="1.85" height="4.07" fill="#A3CBEB" stroke="#8DB3D6" stroke-width="0.3"/>
<rect x="93.26" y="527.03" width="1.85" height="4.07" fill="#A3CBEB" stroke="#8DB3D6" stroke-width="0.3"/>
<rect x="100.73" y="527.03" width="1.85" height="4.07" fill="#A3CBEB" stroke="#8DB3D6" stroke-width="0.3"/>
<rect x="64.00" y="535.3" width="37.30" height="3.30" fill="#A3CBEB"/>
<text x="83.10" y="549.5" font-size="8.5" text-anchor="middle" fill="#222">C <tspan font-size="10.5" dy="0.6">&gt;</tspan><tspan dy="-0.6"> A</tspan></text>
<rect x="105.70" y="527.03" width="1.85" height="4.07" fill="#000000" stroke="#000000" stroke-width="0.3"/>
<rect x="110.69" y="527.03" width="1.85" height="4.07" fill="#000000" stroke="#000000" stroke-width="0.3"/>
<rect x="115.67" y="522.97" width="1.85" height="8.13" fill="#000000" stroke="#000000" stroke-width="0.3"/>
<rect x="118.16" y="527.03" width="1.85" height="4.07" fill="#000000" stroke="#000000" stroke-width="0.3"/>
<rect x="123.14" y="514.83" width="1.85" height="16.27" fill="#000000" stroke="#000000" stroke-width="0.3"/>
<rect x="125.63" y="506.70" width="1.85" height="24.40" fill="#000000" stroke="#000000" stroke-width="0.3"/>
<rect x="130.60" y="478.23" width="1.85" height="52.87" fill="#000000" stroke="#000000" stroke-width="0.3"/>
<rect x="135.58" y="527.03" width="1.85" height="4.07" fill="#000000" stroke="#000000" stroke-width="0.3"/>
<rect x="140.56" y="510.77" width="1.85" height="20.33" fill="#000000" stroke="#000000" stroke-width="0.3"/>
<rect x="101.90" y="535.3" width="37.90" height="3.30" fill="#000000"/>
<text x="122.94" y="549.5" font-size="8.5" text-anchor="middle" fill="#222">C <tspan font-size="10.5" dy="0.6">&gt;</tspan><tspan dy="-0.6"> G</tspan></text>
<rect x="143.06" y="502.63" width="1.85" height="28.47" fill="#E8161B" stroke="#C8101A" stroke-width="0.3"/>
<rect x="145.54" y="506.70" width="1.85" height="24.40" fill="#E8161B" stroke="#C8101A" stroke-width="0.3"/>
<rect x="148.03" y="522.97" width="1.85" height="8.13" fill="#E8161B" stroke="#C8101A" stroke-width="0.3"/>
<rect x="150.52" y="518.90" width="1.85" height="12.20" fill="#E8161B" stroke="#C8101A" stroke-width="0.3"/>
<rect x="153.01" y="527.03" width="1.85" height="4.07" fill="#E8161B" stroke="#C8101A" stroke-width="0.3"/>
<rect x="155.50" y="510.77" width="1.85" height="20.33" fill="#E8161B" stroke="#C8101A" stroke-width="0.3"/>
<rect x="158.00" y="527.03" width="1.85" height="4.07" fill="#E8161B" stroke="#C8101A" stroke-width="0.3"/>
<rect x="160.49" y="510.77" width="1.85" height="20.33" fill="#E8161B" stroke="#C8101A" stroke-width="0.3"/>
<rect x="162.97" y="486.37" width="1.85" height="44.73" fill="#E8161B" stroke="#C8101A" stroke-width="0.3"/>
<rect x="165.46" y="490.43" width="1.85" height="40.67" fill="#E8161B" stroke="#C8101A" stroke-width="0.3"/>
<rect x="167.95" y="518.90" width="1.85" height="12.20" fill="#E8161B" stroke="#C8101A" stroke-width="0.3"/>
<rect x="170.44" y="457.90" width="1.85" height="73.20" fill="#E8161B" stroke="#C8101A" stroke-width="0.3"/>
<rect x="172.94" y="514.83" width="1.85" height="16.27" fill="#E8161B" stroke="#C8101A" stroke-width="0.3"/>
<rect x="175.43" y="514.83" width="1.85" height="16.27" fill="#E8161B" stroke="#C8101A" stroke-width="0.3"/>
<rect x="180.41" y="518.90" width="1.85" height="12.20" fill="#E8161B" stroke="#C8101A" stroke-width="0.3"/>
<rect x="142.10" y="535.3" width="37.90" height="3.30" fill="#E8161B"/>
<text x="162.78" y="549.5" font-size="8.5" text-anchor="middle" fill="#222">C <tspan font-size="10.5" dy="0.6">&gt;</tspan><tspan dy="-0.6"> T</tspan></text>
<rect x="182.89" y="506.70" width="1.85" height="24.40" fill="#F7F7F8" stroke="#F1F1F3" stroke-width="0.3"/>
<rect x="185.38" y="527.03" width="1.85" height="4.07" fill="#F7F7F8" stroke="#F1F1F3" stroke-width="0.3"/>
<rect x="190.37" y="512.80" width="1.85" height="18.30" fill="#F7F7F8" stroke="#F1F1F3" stroke-width="0.3"/>
<rect x="192.86" y="527.03" width="1.85" height="4.07" fill="#F7F7F8" stroke="#F1F1F3" stroke-width="0.3"/>
<rect x="195.34" y="522.97" width="1.85" height="8.13" fill="#F7F7F8" stroke="#F1F1F3" stroke-width="0.3"/>
<rect x="197.83" y="527.03" width="1.85" height="4.07" fill="#F7F7F8" stroke="#F1F1F3" stroke-width="0.3"/>
<rect x="200.32" y="527.03" width="1.85" height="4.07" fill="#F7F7F8" stroke="#F1F1F3" stroke-width="0.3"/>
<rect x="202.81" y="527.03" width="1.85" height="4.07" fill="#F7F7F8" stroke="#F1F1F3" stroke-width="0.3"/>
<rect x="207.80" y="521.75" width="1.85" height="9.35" fill="#F7F7F8" stroke="#F1F1F3" stroke-width="0.3"/>
<rect x="210.29" y="520.53" width="1.85" height="10.57" fill="#F7F7F8" stroke="#F1F1F3" stroke-width="0.3"/>
<rect x="212.77" y="527.03" width="1.85" height="4.07" fill="#F7F7F8" stroke="#F1F1F3" stroke-width="0.3"/>
<rect x="181.90" y="535.3" width="38.30" height="3.30" fill="#ECECEF"/>
<text x="202.62" y="549.5" font-size="8.5" text-anchor="middle" fill="#222">T <tspan font-size="10.5" dy="0.6">&gt;</tspan><tspan dy="-0.6"> A</tspan></text>
<rect x="222.74" y="506.70" width="1.85" height="24.40" fill="#A0C853" stroke="#88AD40" stroke-width="0.3"/>
<rect x="225.23" y="510.77" width="1.85" height="20.33" fill="#A0C853" stroke="#88AD40" stroke-width="0.3"/>
<rect x="227.71" y="506.70" width="1.85" height="24.40" fill="#A0C853" stroke="#88AD40" stroke-width="0.3"/>
<rect x="230.20" y="498.57" width="1.85" height="32.53" fill="#A0C853" stroke="#88AD40" stroke-width="0.3"/>
<rect x="232.69" y="514.83" width="1.85" height="16.27" fill="#A0C853" stroke="#88AD40" stroke-width="0.3"/>
<rect x="235.19" y="514.83" width="1.85" height="16.27" fill="#A0C853" stroke="#88AD40" stroke-width="0.3"/>
<rect x="237.68" y="490.43" width="1.85" height="40.67" fill="#A0C853" stroke="#88AD40" stroke-width="0.3"/>
<rect x="240.17" y="502.63" width="1.85" height="28.47" fill="#A0C853" stroke="#88AD40" stroke-width="0.3"/>
<rect x="242.66" y="518.90" width="1.85" height="12.20" fill="#A0C853" stroke="#88AD40" stroke-width="0.3"/>
<rect x="245.14" y="514.83" width="1.85" height="16.27" fill="#A0C853" stroke="#88AD40" stroke-width="0.3"/>
<rect x="247.63" y="514.83" width="1.85" height="16.27" fill="#A0C853" stroke="#88AD40" stroke-width="0.3"/>
<rect x="250.12" y="498.57" width="1.85" height="32.53" fill="#A0C853" stroke="#88AD40" stroke-width="0.3"/>
<rect x="252.62" y="518.90" width="1.85" height="12.20" fill="#A0C853" stroke="#88AD40" stroke-width="0.3"/>
<rect x="257.60" y="522.97" width="1.85" height="8.13" fill="#A0C853" stroke="#88AD40" stroke-width="0.3"/>
<rect x="260.08" y="522.97" width="1.85" height="8.13" fill="#A0C853" stroke="#88AD40" stroke-width="0.3"/>
<rect x="221.90" y="535.3" width="37.90" height="3.30" fill="#A0C853"/>
<text x="242.46" y="549.5" font-size="8.5" text-anchor="middle" fill="#222">T <tspan font-size="10.5" dy="0.6">&gt;</tspan><tspan dy="-0.6"> C</tspan></text>
<rect x="262.57" y="514.83" width="1.85" height="16.27" fill="#F4BFCE" stroke="#E4A8BA" stroke-width="0.3"/>
<rect x="265.06" y="527.03" width="1.85" height="4.07" fill="#F4BFCE" stroke="#E4A8BA" stroke-width="0.3"/>
<rect x="270.05" y="514.83" width="1.85" height="16.27" fill="#F4BFCE" stroke="#E4A8BA" stroke-width="0.3"/>
<rect x="272.54" y="527.03" width="1.85" height="4.07" fill="#F4BFCE" stroke="#E4A8BA" stroke-width="0.3"/>
<rect x="275.02" y="527.03" width="1.85" height="4.07" fill="#F4BFCE" stroke="#E4A8BA" stroke-width="0.3"/>
<rect x="277.51" y="522.97" width="1.85" height="8.13" fill="#F4BFCE" stroke="#E4A8BA" stroke-width="0.3"/>
<rect x="284.99" y="522.97" width="1.85" height="8.13" fill="#F4BFCE" stroke="#E4A8BA" stroke-width="0.3"/>
<rect x="287.48" y="522.97" width="1.85" height="8.13" fill="#F4BFCE" stroke="#E4A8BA" stroke-width="0.3"/>
<rect x="289.97" y="514.83" width="1.85" height="16.27" fill="#F4BFCE" stroke="#E4A8BA" stroke-width="0.3"/>
<rect x="292.45" y="522.97" width="1.85" height="8.13" fill="#F4BFCE" stroke="#E4A8BA" stroke-width="0.3"/>
<rect x="294.94" y="527.03" width="1.85" height="4.07" fill="#F4BFCE" stroke="#E4A8BA" stroke-width="0.3"/>
<rect x="299.93" y="514.83" width="1.85" height="16.27" fill="#F4BFCE" stroke="#E4A8BA" stroke-width="0.3"/>
<rect x="262.10" y="535.3" width="38.10" height="3.30" fill="#F4BFCE"/>
<text x="282.30" y="549.5" font-size="8.5" text-anchor="middle" fill="#222">T <tspan font-size="10.5" dy="0.6">&gt;</tspan><tspan dy="-0.6"> G</tspan></text>
<text x="318.4" y="9.9" font-size="11.8" font-weight="bold" class="pl">C</text>
<line x1="368.5" y1="18.8" x2="368.5" y2="183.0" stroke="#1a1a1a" stroke-width="1.1"/>
<line x1="365.3" y1="181.20" x2="368.5" y2="181.20" stroke="#222" stroke-width="0.9"/>
<text x="362.1" y="184.00" font-size="8.4" text-anchor="end" textLength="17.65" lengthAdjust="spacingAndGlyphs" fill="#222">0.00</text>
<line x1="365.3" y1="141.35" x2="368.5" y2="141.35" stroke="#222" stroke-width="0.9"/>
<text x="362.1" y="144.15" font-size="8.4" text-anchor="end" textLength="17.65" lengthAdjust="spacingAndGlyphs" fill="#222">0.25</text>
<line x1="365.3" y1="101.50" x2="368.5" y2="101.50" stroke="#222" stroke-width="0.9"/>
<text x="362.1" y="104.30" font-size="8.4" text-anchor="end" textLength="17.65" lengthAdjust="spacingAndGlyphs" fill="#222">0.50</text>
<line x1="365.3" y1="61.65" x2="368.5" y2="61.65" stroke="#222" stroke-width="0.9"/>
<text x="362.1" y="64.45" font-size="8.4" text-anchor="end" textLength="17.65" lengthAdjust="spacingAndGlyphs" fill="#222">0.75</text>
<line x1="365.3" y1="21.80" x2="368.5" y2="21.80" stroke="#222" stroke-width="0.9"/>
<text x="362.1" y="24.60" font-size="8.4" text-anchor="end" textLength="17.65" lengthAdjust="spacingAndGlyphs" fill="#222">1.00</text>
<text transform="translate(337.6,103.4) rotate(-90)" font-size="8.4" font-weight="bold" text-anchor="middle" textLength="68.5" lengthAdjust="spacingAndGlyphs" fill="#222">Relative contribution</text>
<rect x="371.00" y="20.10" width="36.70" height="13.40" fill="#0B6B4B"/>
<rect x="371.00" y="32.90" width="36.70" height="76.50" fill="#9388C2"/>
<rect x="371.00" y="108.80" width="36.70" height="34.50" fill="#E6007C"/>
<rect x="371.00" y="142.70" width="36.70" height="39.80" fill="#39A935"/>
<rect x="406.20" y="20.10" width="35.00" height="12.20" fill="#0B6B4B"/>
<rect x="406.20" y="31.70" width="35.00" height="65.40" fill="#9388C2"/>
<rect x="406.20" y="96.50" width="35.00" height="46.80" fill="#E6007C"/>
<rect x="406.20" y="142.70" width="35.00" height="39.80" fill="#39A935"/>
<text transform="translate(391.9,187.6) rotate(-90)" font-size="8.45" text-anchor="end" fill="#222">Clonal</text>
<text transform="translate(426.8,187.6) rotate(-90)" font-size="8.45" text-anchor="end" fill="#222">Subclonal</text>
<text x="344.6" y="241.0" font-size="8.2" textLength="47.2" lengthAdjust="spacingAndGlyphs" fill="#222">Signature key</text>
<rect x="344.5" y="246.3" width="13.2" height="12.2" fill="#0B6B4B"/>
<text x="361.7" y="255.2" font-size="8.3" textLength="40.4" lengthAdjust="spacingAndGlyphs" fill="#222">SBS1 (age)</text>
<rect x="344.5" y="260.9" width="13.2" height="12.2" fill="#9388C2"/>
<text x="361.7" y="269.8" font-size="8.3" textLength="40.6" lengthAdjust="spacingAndGlyphs" fill="#222">SBS5 (age)</text>
<rect x="412.7" y="246.3" width="13.2" height="12.2" fill="#E6007C"/>
<text x="428.7" y="255.2" font-size="8.3" textLength="59.9" lengthAdjust="spacingAndGlyphs" fill="#222">SBS8 (unknown)</text>
<rect x="412.7" y="260.9" width="13.2" height="12.2" fill="#39A935"/>
<text x="428.7" y="269.8" font-size="8.3" textLength="80.9" lengthAdjust="spacingAndGlyphs" fill="#222">SBS9 (germinal center)</text>
<text x="318.4" y="295.1" font-size="11.8" font-weight="bold" class="pl">F</text>
<line x1="368.5" y1="303.4" x2="368.5" y2="469.2" stroke="#1a1a1a" stroke-width="1.1"/>
<line x1="365.3" y1="465.60" x2="368.5" y2="465.60" stroke="#222" stroke-width="0.9"/>
<text x="362.1" y="468.40" font-size="8.4" text-anchor="end" textLength="17.65" lengthAdjust="spacingAndGlyphs" fill="#222">0.00</text>
<line x1="365.3" y1="425.88" x2="368.5" y2="425.88" stroke="#222" stroke-width="0.9"/>
<text x="362.1" y="428.68" font-size="8.4" text-anchor="end" textLength="17.65" lengthAdjust="spacingAndGlyphs" fill="#222">0.25</text>
<line x1="365.3" y1="386.15" x2="368.5" y2="386.15" stroke="#222" stroke-width="0.9"/>
<text x="362.1" y="388.95" font-size="8.4" text-anchor="end" textLength="17.65" lengthAdjust="spacingAndGlyphs" fill="#222">0.50</text>
<line x1="365.3" y1="346.43" x2="368.5" y2="346.43" stroke="#222" stroke-width="0.9"/>
<text x="362.1" y="349.23" font-size="8.4" text-anchor="end" textLength="17.65" lengthAdjust="spacingAndGlyphs" fill="#222">0.75</text>
<line x1="365.3" y1="306.70" x2="368.5" y2="306.70" stroke="#222" stroke-width="0.9"/>
<text x="362.1" y="309.50" font-size="8.4" text-anchor="end" textLength="17.65" lengthAdjust="spacingAndGlyphs" fill="#222">1.00</text>
<text transform="translate(337.6,388.0) rotate(-90)" font-size="8.4" font-weight="bold" text-anchor="middle" textLength="68.5" lengthAdjust="spacingAndGlyphs" fill="#222">Relative contribution</text>
<rect x="371.00" y="306.10" width="36.70" height="91.70" fill="#39A935"/>
<rect x="371.00" y="397.20" width="36.70" height="69.70" fill="#E28B7D"/>
<rect x="406.20" y="306.10" width="35.00" height="83.70" fill="#39A935"/>
<rect x="406.20" y="389.20" width="35.00" height="77.70" fill="#E28B7D"/>
<text transform="translate(391.9,472.0) rotate(-90)" font-size="8.45" text-anchor="end" fill="#222">Clonal</text>
<text transform="translate(426.8,472.0) rotate(-90)" font-size="8.45" text-anchor="end" fill="#222">Subclonal</text>
<text x="344.6" y="525.3" font-size="8.2" textLength="47.2" lengthAdjust="spacingAndGlyphs" fill="#222">Signature key</text>
<rect x="344.3" y="531.6" width="13.2" height="12.2" fill="#E28B7D"/>
<text x="361.5" y="540.5" font-size="8.3" textLength="47.2" lengthAdjust="spacingAndGlyphs" fill="#222">SBS84 (AID)</text>
<rect x="421.8" y="531.6" width="13.2" height="12.2" fill="#39A935"/>
<text x="439.0" y="540.5" font-size="8.3" textLength="80.9" lengthAdjust="spacingAndGlyphs" fill="#222">SBS9 (germinal center)</text>
</svg>
</body></html>
